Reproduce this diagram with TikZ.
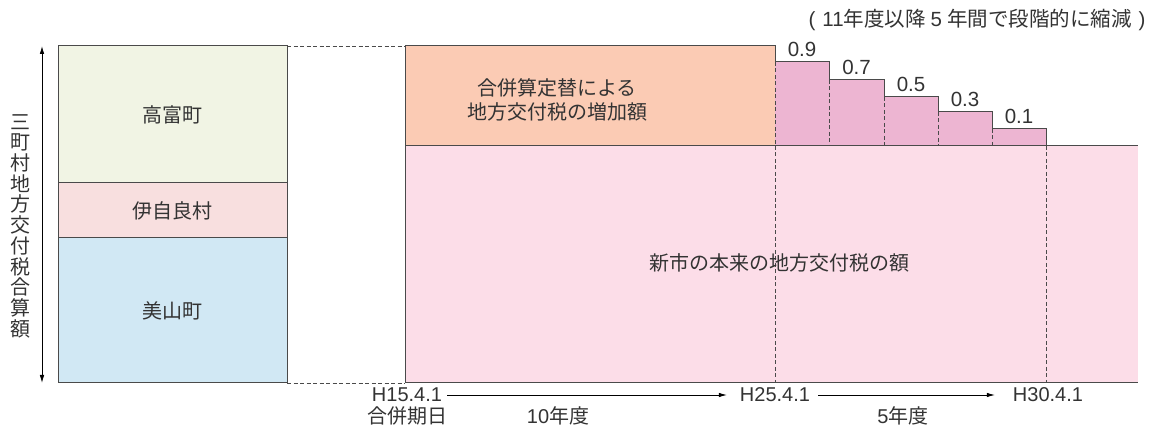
\documentclass[tikz,border=0pt]{standalone}
\usepackage{fontspec}
\setmainfont{Liberation Sans}
\newfontfamily\jpfont{Noto Sans CJK JP}
\usetikzlibrary{positioning,arrows.meta}

\definecolor{linegray}{HTML}{4A4A4A}
\definecolor{textgray}{HTML}{333333}
\definecolor{takatomi}{HTML}{F1F4E4}
\definecolor{ijira}{HTML}{F8DFDF}
\definecolor{miyama}{HTML}{D1E8F4}
\definecolor{increase}{HTML}{FBCBB4}
\definecolor{shinshi}{HTML}{FCDDE8}
\definecolor{stepfill}{HTML}{EDB5D2}

\tikzset{
    frame/.style={draw=linegray, line width=1pt},
    guide/.style={draw=linegray, line width=0.9pt, dash pattern=on 4pt off 2.5pt},
    townbox/.style={draw=linegray, line width=1pt, minimum width=229pt, inner sep=0pt, outer sep=0pt,
        text=textgray, font=\jpfont\fontsize{20}{24}\selectfont},
    jplabel/.style={text=textgray, inner sep=0pt, font=\jpfont\fontsize{20}{24}\selectfont},
    numlabel/.style={text=textgray, inner sep=0pt, font=\fontsize{20}{24}\selectfont},
    timeline/.style={draw=black, line width=0.8pt, -{Latex[length=8pt,width=4.5pt]}},
    axis/.style={draw=black, line width=0.8pt, {Latex[length=8pt,width=4.5pt]}-{Latex[length=8pt,width=4.5pt]}},
}

\begin{document}
\begin{tikzpicture}[x=1pt,y=-1pt]
    \useasboundingbox (0,0) rectangle (1151,427);

    % Three towns before the merger
    \node[townbox, fill=takatomi, minimum height=137pt] (takatomi) at (172.5,114.5) {高富町};
    \node[townbox, fill=ijira, minimum height=55pt, below=0pt of takatomi] (ijira) {伊自良村};
    \node[townbox, fill=miyama, minimum height=145pt, below=0pt of ijira] (miyama) {美山町};

    % Total axis
    \coordinate (axtop) at (42,46);
    \coordinate (axbot) at (42,383);
    \draw[axis] (axtop) -- (axbot);
    \node[jplabel, align=center, font=\jpfont\fontsize{20}{20.7}\selectfont] (sumlabel) at (20,226)
        {三\\町\\村\\地\\方\\交\\付\\税\\合\\算\\額};

    % New city
    \coordinate (start) at (405,46);
    \coordinate (base) at (405,383);
    \fill[shinshi] (405,146) rectangle (1138,383);
    \fill[increase] (start) rectangle (775,146);

    % Steps after 10 years
    \foreach \xa/\xb/\h/\val in {775/829/62/0.9, 829/884/80/0.7, 884/938/97/0.5, 938/992/112/0.3, 992/1046/129/0.1} {
        \fill[stepfill] (\xa,\h) rectangle (\xb,146);
        \draw[guide] (\xa,\h) -- (\xa,146);
        \node[numlabel, font=\fontsize{20.5}{24}\selectfont] (step\xa) at ({(\xa+\xb)/2},\h-13) {\val};
    }
    \draw[frame] (775,62) -- (829,62) -- (829,80) -- (884,80) -- (884,97) -- (938,97)
        -- (938,112) -- (992,112) -- (992,129) -- (1046,129) -- (1046,146);

    % Outlines
    \draw[frame] (775,62) -- (775,46) -- (start) -- (base) -- (1138,383);
    \draw[frame] (405,146) -- (1138,146);
    \draw[guide] (775,146) -- (775,383);
    \draw[guide] (1046,146) -- (1046,383);
    \draw[guide] (takatomi.north east) -- (start);
    \draw[guide] (miyama.south east) -- (base);

    \node[jplabel, align=center] (incrlabel) at (557,100) {合併算定替による\\地方交付税の増加額};
    \node[jplabel] (baselabel) at (779,263) {新市の本来の地方交付税の額};
    \node[numlabel, font=\fontsize{20.5}{24}\selectfont] (note) at (977,20)
        {(\hspace{7pt}11{\jpfont 年度以降}\hspace{5pt}5\hspace{5pt}{\jpfont 年間で段階的に縮減}\hspace{7pt})};

    % Time line
    \node[numlabel] (h15) at (407,395) {H15.4.1};
    \node[numlabel] (h25) at (775,395) {H25.4.1};
    \node[numlabel] (h30) at (1048,395) {H30.4.1};
    \node[jplabel] (mergeday) at (407,416) {合併期日};
    \node[numlabel] (ten) at (558,416) {10{\jpfont 年度}};
    \node[numlabel] (five) at (903,416) {5{\jpfont 年度}};
    \draw[timeline, shorten <=5pt, shorten >=13pt] (h15) -- (h25);
    \draw[timeline, shorten <=8pt, shorten >=18pt] (h25) -- (h30);
\end{tikzpicture}
\end{document}
